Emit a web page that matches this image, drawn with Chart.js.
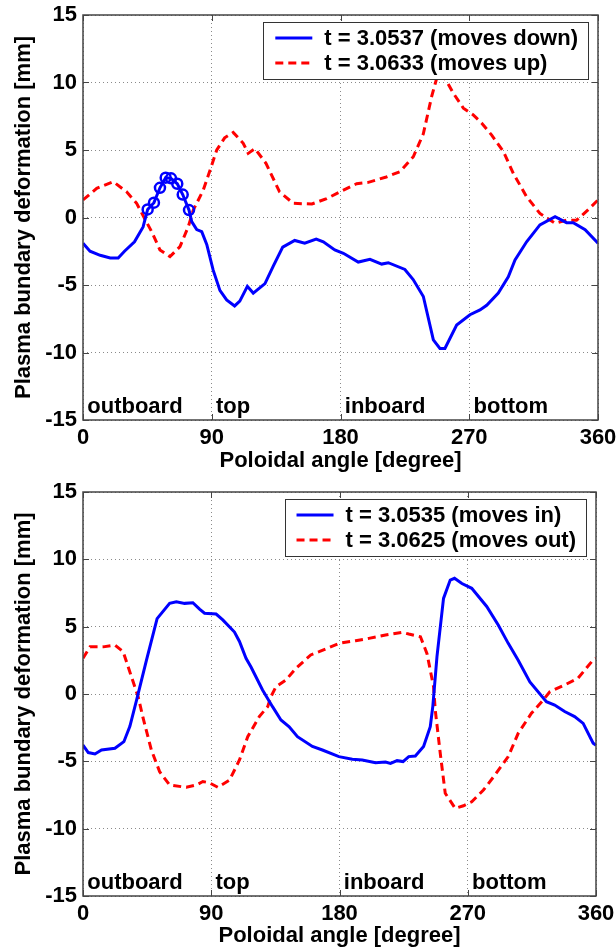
<!DOCTYPE html>
<html>
<head>
<meta charset="utf-8">
<script src="https://cdn.jsdelivr.net/npm/chart.js@4"></script>
<style>
  body { margin: 0; background: #fff; }
  canvas { display: block; }
</style>
</head>
<body>
<canvas id="chartTop" width="616" height="476"></canvas>
<canvas id="chartBottom" width="616" height="475"></canvas>
<script>
'use strict';

// --- top panel: vertical motion ---
let downAngle = [0, 4.9, 12, 19, 24.6, 29, 36, 42, 45.2, 49.6, 53.8, 57.8, 61.5, 65.9, 69.7, 74.1,
  76, 79.5, 83, 86.5, 91, 95.7, 100.4, 106, 109.6, 114.9, 119, 127.2, 133, 139.6, 148, 155, 163, 168,
  176, 182, 192.4, 200.6, 208.8, 213.4, 225, 230.8, 237.9, 244.9, 249.5, 253, 261.2, 270.5, 277.5,
  282.2, 290.3, 297.3, 302, 310.1, 319.4, 330, 338, 342.7, 351, 360];
let downValue = [-1.9, -2.5, -2.8, -3.0, -3.0, -2.5, -1.8, -0.7, 0.6, 1.1, 2.2, 2.95, 2.9, 2.5, 1.7, 0.55,
  -0.3, -0.9, -1.05, -2.0, -3.9, -5.4, -6.1, -6.55, -6.2, -5.1, -5.6, -4.9, -3.6, -2.2, -1.7, -1.9, -1.6, -1.8,
  -2.4, -2.65, -3.3, -3.1, -3.45, -3.35, -3.85, -4.6, -5.85, -9.07, -9.7, -9.7, -7.96, -7.2, -6.85,
  -6.5, -5.6, -4.4, -3.15, -1.8, -0.55, 0.06, -0.38, -0.38, -0.9, -1.9];
let downMarked = [8, 9, 10, 11, 12, 13, 14, 15];

let upAngle = [0, 9.6, 21.2, 30.5, 37.5, 43.7, 48, 53.8, 60.8, 67.8, 73.6, 77.1, 84.1, 88.8, 93.5, 99,
  105, 112, 115.5, 120.2, 128, 137.4, 147, 160, 170.3, 179.6, 191.3, 199.4, 212, 221.6, 230.9, 237.9,
  243.7, 248, 252, 258.9, 265.9, 272.8, 278.6, 285.7, 293.8, 300.8, 310.1, 319.4, 330, 338, 345, 353, 360];
let upValue = [1.3, 2.16, 2.65, 1.9, 1.05, -0.2, -1.05, -2.4, -2.9, -2.16, -0.68, 0.55, 2.04, 3.5, 5.0, 5.9,
  6.3, 5.5, 4.75, 5.1, 4.0, 1.9, 1.05, 1.0, 1.4, 1.9, 2.5, 2.6, 3.0, 3.4, 4.5, 6.2,
  8.95, 10.6, 10.5, 9.2, 8.1, 7.6, 7.0, 6.1, 4.9, 3.27, 1.54, 0.3, -0.43, -0.2, -0.2, 0.56, 1.3];

// --- bottom panel: radial motion ---
let inAngle = [0, 3.7, 8.4, 13, 22.4, 28.7, 32.9, 37.5, 44.5, 52, 60.8, 65.5, 71.3, 77.1, 81.8, 85.3,
  93.4, 98.1, 106.3, 109.8, 114.4, 117.9, 126, 133, 138.9, 144.7, 150.5, 161, 168, 179.6, 189, 196,
  205.3, 212.3, 215.8, 220.4, 224.6, 228.6, 233.2, 239, 243.7, 245.5, 248.4, 253, 257.7, 260.7, 265.9,
  272.8, 283.3, 291.5, 298.4, 305.4, 313.6, 325.2, 331, 338, 345, 351, 358, 360];
let inValue = [-3.8, -4.35, -4.45, -4.16, -4.03, -3.54, -2.4, -0.5, 2.5, 5.6, 6.73, 6.85, 6.73, 6.78, 6.3, 6.0,
  5.94, 5.5, 4.6, 3.9, 2.65, 2.0, 0.3, -0.94, -1.93, -2.43, -3.17, -3.9, -4.16, -4.65, -4.85, -4.9,
  -5.1, -5.05, -5.15, -4.95, -5.02, -4.65, -4.6, -3.9, -2.43, -0.9, 2.77, 7.1, 8.46, 8.59, 8.2,
  7.85, 6.5, 5.1, 3.76, 2.5, 0.9, -0.57, -0.82, -1.3, -1.68, -2.18, -3.66, -3.8];

let outAngle = [0, 4.9, 14.2, 22.4, 28.2, 34, 38.7, 42.2, 48, 53.8, 60.8, 72.5, 79.5, 84.1, 88.8, 94.6,
  102.8, 109.8, 115.6, 123.7, 129.6, 131.9, 135.4, 142.4, 149.4, 159.8, 165.7, 179.6, 191.3, 200.6,
  212.3, 223.9, 228.6, 236.8, 241.4, 246, 247.2, 250.7, 254.2, 261.2, 267, 272.8, 281, 289.2, 298.4,
  305.4, 314.7, 322.9, 327.6, 338, 347.4, 357.9, 360];
let outValue = [2.65, 3.5, 3.5, 3.64, 3.14, 1.28, -0.2, -1.8, -4.16, -5.77, -6.76, -6.93, -6.76, -6.5, -6.6, -6.93,
  -6.4, -4.9, -3.17, -1.68, -0.94, -0.2, 0.54, 1.04, 1.9, 2.9, 3.14, 3.76, 3.96, 4.13,
  4.38, 4.58, 4.45, 4.25, 3.0, 0.54, -1.19, -4.4, -7.37, -8.49, -8.3, -8.0, -7.13, -6.0, -4.65,
  -2.92, -1.43, -0.45, 0.17, 0.67, 1.17, 2.52, 2.65];

let xTicks = [0, 90, 180, 270, 360];
let yTicks = [-15, -10, -5, 0, 5, 10, 15];
let regionNames = ['outboard', 'top', 'inboard', 'bottom'];
let regionStart = [3, 93, 183, 273];

const FONT = "'Liberation Sans', Arial, sans-serif";
const BLUE = '#0000ff';
const RED = '#ff0000';

function points(xs, ys) {
  let pts = [];
  for (let i = 0; i < xs.length; i++) {
    pts.push({x: xs[i], y: ys[i]});
  }
  return pts;
}

// MATLAB-ish box, inward ticks, region labels and the framed legend
const matlabFrame = {
  id: 'matlabFrame',
  afterDatasetsDraw(chart) {
    const ctx = chart.ctx;
    const a = chart.chartArea;
    const xs = chart.scales.x, ys = chart.scales.y;

    ctx.save();
    ctx.fillStyle = '#000';
    ctx.font = 'bold 22px ' + FONT;
    ctx.textAlign = 'left';
    ctx.textBaseline = 'middle';
    for (let i = 0; i < regionNames.length; i++) {
      ctx.fillText(regionNames[i], xs.getPixelForValue(regionStart[i]), ys.getPixelForValue(-14.05));
    }

    // legend
    const ds = chart.data.datasets;
    let textW = 0;
    ds.forEach(d => { textW = Math.max(textW, ctx.measureText(d.label).width); });
    const boxW = 12 + 37 + 12 + textW + 10;
    const right = a.right - 10, top = a.top + 7;
    const left = right - boxW;
    ctx.fillStyle = '#fff';
    ctx.fillRect(left, top, boxW, 57);
    ctx.strokeStyle = '#333';
    ctx.lineWidth = 1;
    ctx.strokeRect(Math.round(left) + 0.5, top + 0.5, Math.round(boxW), 57);
    ds.forEach((d, i) => {
      const cy = top + 16 + i * 25;
      ctx.strokeStyle = d.borderColor;
      ctx.lineWidth = d.borderWidth;
      ctx.setLineDash(d.borderDash || []);
      ctx.beginPath();
      ctx.moveTo(left + 12, cy);
      ctx.lineTo(left + 49, cy);
      ctx.stroke();
      ctx.setLineDash([]);
      ctx.fillStyle = '#000';
      ctx.fillText(d.label, left + 61, cy + 1);
    });

    // box and inward ticks
    ctx.strokeStyle = '#444';
    ctx.lineWidth = 1.5;
    ctx.strokeRect(a.left, a.top, a.right - a.left, a.bottom - a.top);
    ctx.lineWidth = 1;
    ctx.beginPath();
    xTicks.forEach(v => {
      const px = Math.round(xs.getPixelForValue(v)) + 0.5;
      ctx.moveTo(px, a.bottom); ctx.lineTo(px, a.bottom - 6);
      ctx.moveTo(px, a.top); ctx.lineTo(px, a.top + 6);
    });
    yTicks.forEach(v => {
      const py = Math.round(ys.getPixelForValue(v)) + 0.5;
      ctx.moveTo(a.left, py); ctx.lineTo(a.left + 6, py);
      ctx.moveTo(a.right, py); ctx.lineTo(a.right - 6, py);
    });
    ctx.stroke();
    ctx.restore();
  }
};

function makeChart(id, solid, dashed, padTop, padRight, axisH) {
  const font = {family: FONT, size: 22, weight: 'bold'};
  return new Chart(document.getElementById(id), {
    type: 'line',
    data: {
      datasets: [
        Object.assign({borderColor: BLUE, borderWidth: 3, pointRadius: 0, tension: 0, fill: false}, solid),
        Object.assign({borderColor: RED, borderWidth: 3, borderDash: [8, 5], pointRadius: 0, tension: 0, fill: false}, dashed)
      ]
    },
    options: {
      responsive: false,
      animation: false,
      layout: {padding: {top: padTop, right: padRight, left: 0, bottom: 0}},
      plugins: {legend: {display: false}, tooltip: {enabled: false}},
      scales: {
        x: {
          type: 'linear', min: 0, max: 360,
          afterBuildTicks: s => { s.ticks = xTicks.map(v => ({value: v})); },
          ticks: {color: '#000', font: font, padding: 5, maxRotation: 0},
          grid: {color: '#8a8a8a', lineWidth: 1, drawTicks: false},
          border: {display: false, dash: [1, 3]},
          title: {display: true, text: 'Poloidal angle [degree]', color: '#000', font: font, padding: {top: 0, bottom: 2}},
          afterFit: s => { s.height = axisH; s.paddingLeft = 0; s.paddingRight = 0; }
        },
        y: {
          type: 'linear', min: -15, max: 15,
          afterBuildTicks: s => { s.ticks = yTicks.map(v => ({value: v})); },
          ticks: {color: '#000', font: font, padding: 6},
          grid: {color: '#8a8a8a', lineWidth: 1, drawTicks: false},
          border: {display: false, dash: [1, 3]},
          title: {display: true, text: 'Plasma bundary deformation [mm]', color: '#000', font: font, padding: {top: 11, bottom: 0}},
          afterFit: s => { s.width = 83; s.paddingTop = 0; s.paddingBottom = 0; }
        }
      }
    },
    plugins: [matlabFrame]
  });
}

makeChart('chartTop',
  {
    label: 't = 3.0537 (moves down)',
    data: points(downAngle, downValue),
    pointRadius: c => (downMarked.indexOf(c.dataIndex) >= 0 ? 5 : 0),
    pointBorderWidth: 2.5,
    pointBorderColor: BLUE,
    pointBackgroundColor: 'rgba(0,0,0,0)'
  },
  {label: 't = 3.0633 (moves up)', data: points(upAngle, upValue)},
  15, 18, 56);

makeChart('chartBottom',
  {label: 't = 3.0535 (moves in)', data: points(inAngle, inValue)},
  {label: 't = 3.0625 (moves out)', data: points(outAngle, outValue)},
  16, 20, 55);
</script>
</body>
</html>
